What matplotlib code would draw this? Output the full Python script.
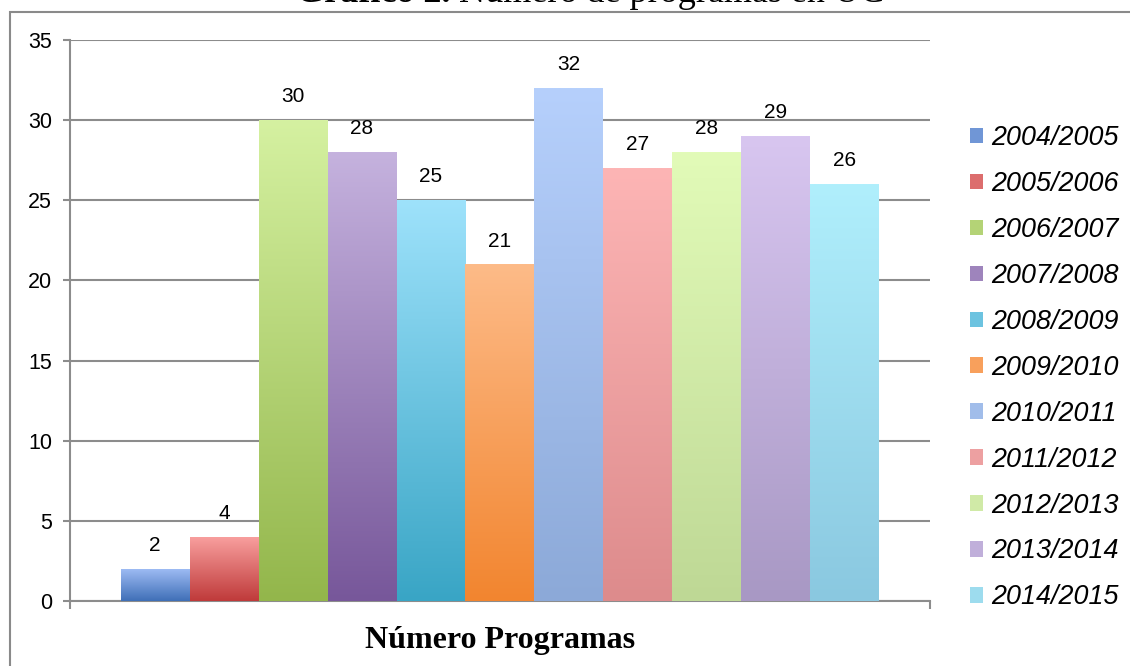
import numpy as np
import matplotlib
matplotlib.use("Agg")
import matplotlib.pyplot as plt
from matplotlib.colors import LinearSegmentedColormap, to_rgb
from matplotlib.patches import Patch, Rectangle

# data
seasons = ["2004/2005", "2005/2006", "2006/2007", "2007/2008", "2008/2009", "2009/2010",
           "2010/2011", "2011/2012", "2012/2013", "2013/2014", "2014/2015"]
programs = [2, 4, 30, 28, 25, 21, 32, 27, 28, 29, 26]
category = "Número Programas"
title_bold = "Gráfico 2."
title_rest = " Número de programas en UC"

# gradient colours (top, bottom) per season
tops = ["#a0bdf5", "#f9a09f", "#d5f1a1", "#c5b2de", "#9ee2fb", "#fdbb88",
        "#b6d0fc", "#fdb5b5", "#e2fbb8", "#d8c6f0", "#b0effc"]
bottoms = ["#3f6fb7", "#bf3a3a", "#93b64b", "#77579a", "#39a5c5", "#f2852f",
           "#8ca9d8", "#dd8b8c", "#bed895", "#a898c4", "#8ac8e0"]

GRID = "#8c8c8c"
SANS = "Liberation Sans"
SERIF = "Liberation Serif"

fig = plt.figure(figsize=(11.3, 6.66), dpi=100)
W, H = 1130, 666

# outer frame of the chart
fig.patches.append(Rectangle((10 / W, -0.05), 1.2, (H - 12) / H + 0.05, transform=fig.transFigure,
                             fill=False, edgecolor="#8a8a8a", linewidth=1.5))

ax = fig.add_axes([70 / W, (H - 601) / H, 860 / W, 561 / H])

x = np.arange(len(programs)) - (len(programs) - 1) / 2
bars = ax.bar(x, programs, width=1.0, color=bottoms, zorder=3)

# vertical gradient inside each bar
for b, c_top, c_bot in zip(bars, tops, bottoms):
    cmap = LinearSegmentedColormap.from_list("g", [to_rgb(c_bot), to_rgb(c_top)])
    grad = np.linspace(0, 1, 256).reshape(-1, 1)
    x0, y0 = b.get_x(), b.get_y()
    im = ax.imshow(grad, cmap=cmap, origin="lower", aspect="auto", zorder=4,
                   extent=[x0, x0 + b.get_width(), y0, y0 + b.get_height()])
    im.set_clip_path(b)

for xi, v in zip(x, programs):
    ax.annotate(str(v), (xi, v), xytext=(0, 10), textcoords="offset points",
                ha="center", va="bottom", fontsize=15, family=SANS, zorder=5)

half = 430 / 69
ax.set_xlim(-half, half)
ax.set_ylim(0, 35)
ax.set_yticks(range(0, 36, 5))
ax.set_xticks([-half, half])
ax.set_xticklabels([])
ax.tick_params(axis="y", length=5, width=1.5, color=GRID, labelsize=15.5, pad=8)
ax.tick_params(axis="x", length=5.5, width=1.5, color=GRID)
for lab in ax.get_yticklabels():
    lab.set_family(SANS)
ax.yaxis.grid(True, color=GRID, linewidth=1.5, zorder=0)
ax.set_axisbelow(True)
for s in ["top", "right"]:
    ax.spines[s].set_visible(False)
for s in ["left", "bottom"]:
    ax.spines[s].set_color(GRID)
    ax.spines[s].set_linewidth(1.5)

ax.set_xlabel(category, fontsize=23, family=SERIF, fontweight="bold", labelpad=9)

handles = [Patch(facecolor=np.mean([to_rgb(t), to_rgb(b_)], axis=0)) for t, b_ in zip(tops, bottoms)]
leg = fig.legend(handles, seasons, loc="upper left", bbox_to_anchor=(970 / W, 1 - 125 / H),
                 frameon=False, prop={"family": SANS, "style": "italic", "size": 19.4},
                 handlelength=0.5, handleheight=0.5, handletextpad=0.3, labelspacing=0.74,
                 borderaxespad=0, borderpad=0)

# title, partly cut by the top edge as in the source
fig.canvas.draw()
r = fig.canvas.get_renderer()
t1 = fig.text(0, 1 - 1.5 / H, title_bold, family=SERIF, fontweight="bold", fontsize=26, va="baseline")
t2 = fig.text(0, 1 - 1.5 / H, title_rest, family=SERIF, fontsize=26, va="baseline")
w1 = t1.get_window_extent(r).width
w2 = t2.get_window_extent(r).width
start = 590 - (w1 + w2) / 2
t1.set_x(start / W)
t2.set_x((start + w1) / W)

fig.savefig("out.png", dpi=100)
